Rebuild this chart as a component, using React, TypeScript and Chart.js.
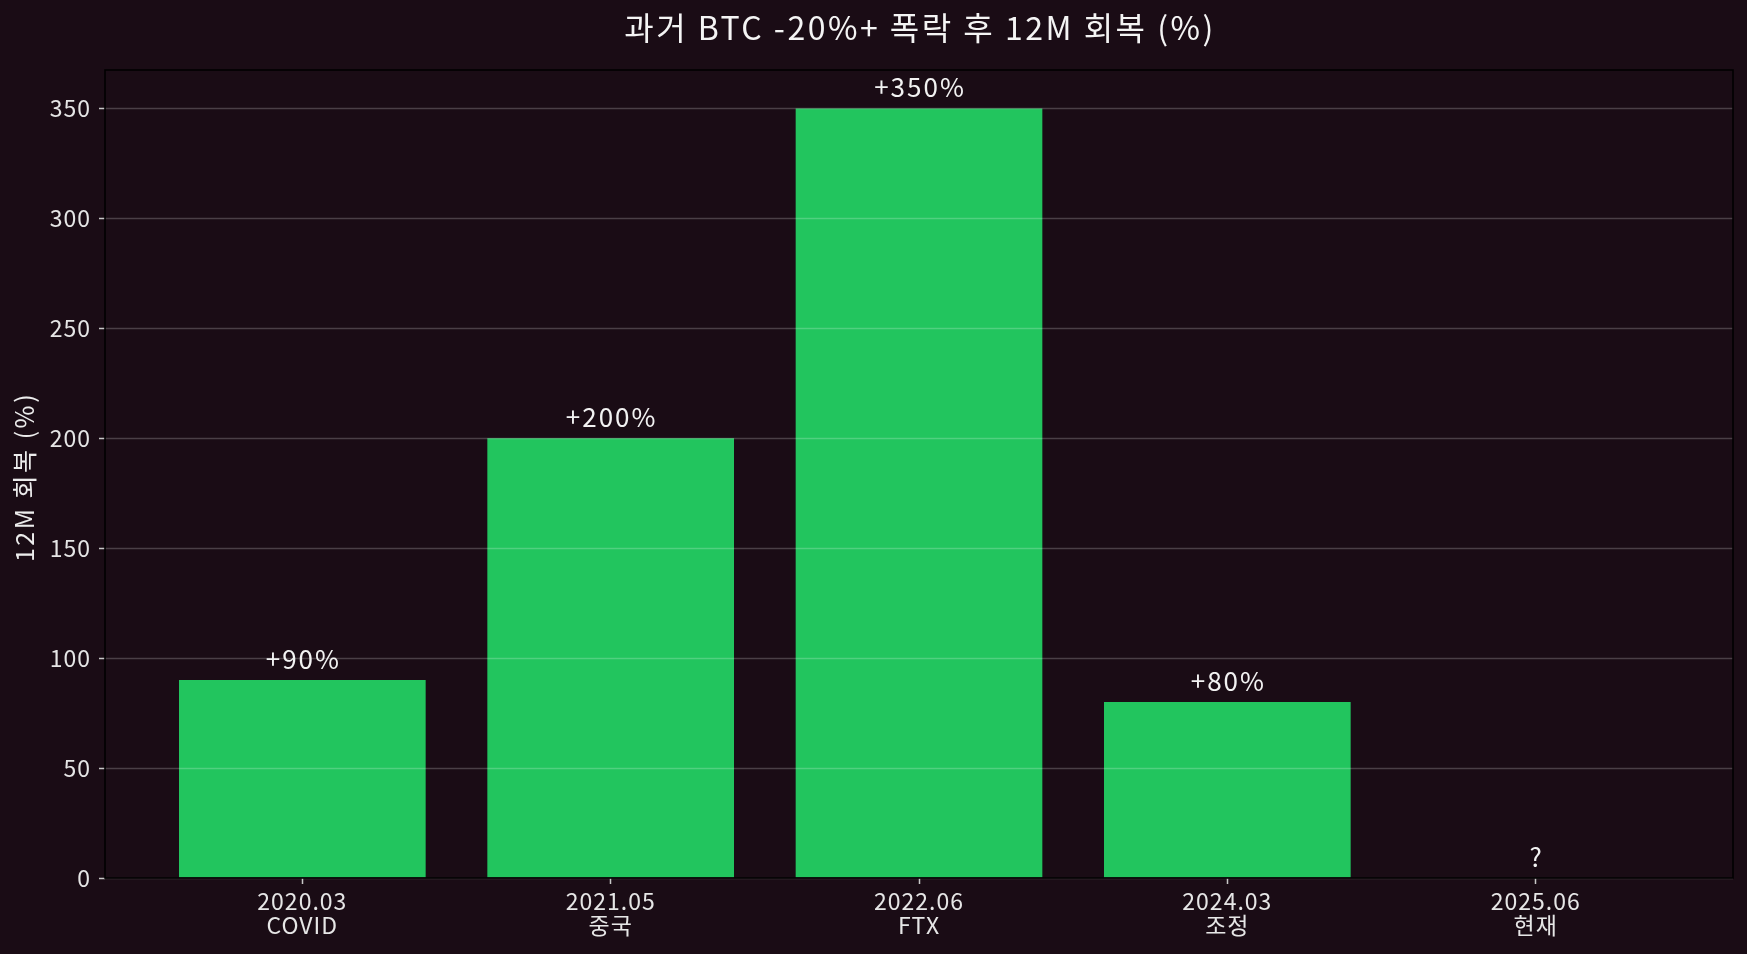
import React, { useEffect, useRef } from "react";
import { Chart, registerables } from "chart.js";

Chart.register(...registerables);

const categories = ["2020.03", "2021.05", "2022.06", "2024.03", "2025.06"];
const events = ["COVID", "중국", "FTX", "조정", "현재"];
const recovery = [90, 200, 350, 80, 0];
const valueLabels = ["+90%", "+200%", "+350%", "+80%", "?"];
const yTicks = [0, 50, 100, 150, 200, 250, 300, 350];
const chartTitle = "과거 BTC -20%+ 폭락 후 12M 회복 (%)";
const yAxisTitle = "12M 회복 (%)";

const W = 1747;
const H = 954;
const BG = "#1a0c15";
const BAR = "#22c55e";
const FONT = "'Noto Sans CJK KR', 'Noto Sans', sans-serif";
const TICK_COLOR = "#e6e6e6";

const overlayPlugin = {
  id: "overlay",
  beforeDraw(chart: any) {
    const ctx = chart.ctx;
    ctx.save();
    ctx.fillStyle = BG;
    ctx.fillRect(0, 0, chart.width, chart.height);
    ctx.restore();
    ctx.letterSpacing = "1px";
  },
  afterDatasetsDraw(chart: any) {
    const ctx = chart.ctx;
    const area = chart.chartArea;
    const x = chart.scales.x;
    const y = chart.scales.y;
    ctx.save();
    // grid lines over bars
    ctx.strokeStyle = "rgba(255,255,255,0.21)";
    ctx.lineWidth = 1.3;
    yTicks.forEach((t) => {
      const py = Math.round(y.getPixelForValue(t)) + 0.5;
      ctx.beginPath();
      ctx.moveTo(area.left, py);
      ctx.lineTo(area.right, py);
      ctx.stroke();
    });
    // value labels
    ctx.fillStyle = "#f2f2f2";
    ctx.font = `26px ${FONT}`;
    ctx.letterSpacing = "2px";
    ctx.textAlign = "center";
    ctx.textBaseline = "alphabetic";
    recovery.forEach((v, i) => {
      const px = x.getPixelForValue(i) + 1;
      const py = y.getPixelForValue(v + 5);
      ctx.fillText(valueLabels[i], px, py);
    });
    // spines
    ctx.strokeStyle = "#000000";
    ctx.lineWidth = 1.6;
    ctx.strokeRect(area.left, area.top, area.right - area.left, area.bottom - area.top);
    // title
    ctx.fillStyle = "#f4f4f4";
    ctx.font = `32px ${FONT}`;
    ctx.letterSpacing = "2.5px";
    ctx.textAlign = "center";
    ctx.textBaseline = "middle";
    ctx.fillText(chartTitle, (area.left + area.right) / 2 + 1, 28);
    // y axis title
    ctx.save();
    ctx.translate(24, (area.top + area.bottom) / 2 + 3);
    ctx.rotate(-Math.PI / 2);
    ctx.font = `25px ${FONT}`;
    ctx.letterSpacing = "2.5px";
    ctx.fillStyle = "#ececec";
    ctx.fillText(yAxisTitle, 0, 0);
    ctx.restore();
    ctx.restore();
  },
};

export default function App() {
  const ref = useRef<HTMLCanvasElement | null>(null);

  useEffect(() => {
    document.body.style.margin = "0";
    document.body.style.background = BG;
    if (!ref.current) return;
    const chart = new Chart(ref.current, {
      type: "bar",
      data: {
        datasets: [
          {
            data: recovery.map((v, i) => ({ x: i, y: v })),
            backgroundColor: BAR,
            borderWidth: 0,
            barPercentage: 0.8,
            categoryPercentage: 1,
          },
        ],
      },
      options: {
        animation: false,
        responsive: false,
        devicePixelRatio: 1,
        layout: { padding: { top: 70, right: 14, bottom: 0, left: 0 } },
        plugins: {
          legend: { display: false },
          title: { display: false },
          tooltip: { enabled: false },
        },
        scales: {
          x: {
            type: "linear",
            min: -0.64,
            max: 4.64,
            offset: false,
            afterBuildTicks: (s: any) => {
              s.ticks = categories.map((_, i) => ({ value: i }));
            },
            afterFit: (s: any) => {
              s.height = H - 878;
            },
            border: { display: false },
            grid: {
              offset: false,
              drawOnChartArea: false,
              drawTicks: true,
              tickLength: 6,
              tickWidth: 1.5,
              tickColor: "#c8c8c8",
            },
            ticks: {
              autoSkip: false,
              maxRotation: 0,
              minRotation: 0,
              padding: 5,
              color: TICK_COLOR,
              font: { family: FONT, size: 23, lineHeight: 1.04 },
              callback: (v: any) => {
                const i = Math.round(Number(v));
                return [categories[i], events[i]];
              },
            },
          },
          y: {
            type: "linear",
            min: 0,
            max: 367.5,
            afterBuildTicks: (s: any) => {
              s.ticks = yTicks.map((v) => ({ value: v }));
            },
            afterFit: (s: any) => {
              s.width = 105;
            },
            border: { display: false },
            grid: {
              drawOnChartArea: false,
              drawTicks: true,
              tickLength: 6,
              tickWidth: 1.5,
              tickColor: "#c8c8c8",
            },
            ticks: {
              padding: 8,
              color: TICK_COLOR,
              font: { family: FONT, size: 23 },
              callback: (v: any) => String(v),
            },
          },
        },
      } as any,
      plugins: [overlayPlugin],
    });
    return () => chart.destroy();
  }, []);

  return (
    <div style={{ width: W, height: H, background: BG }}>
      <canvas ref={ref} width={W} height={H} style={{ display: "block" }} />
    </div>
  );
}
